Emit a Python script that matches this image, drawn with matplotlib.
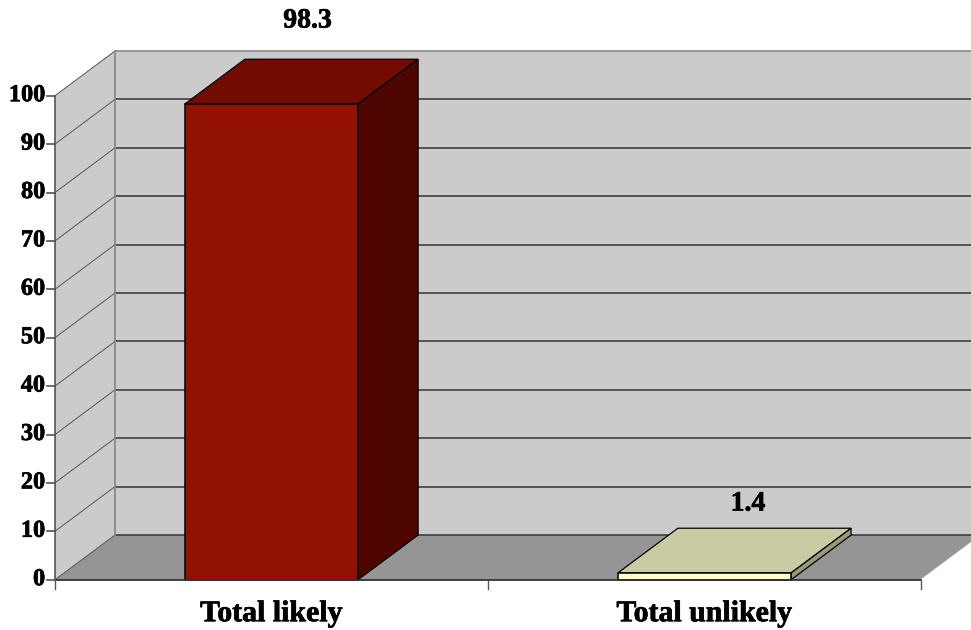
import matplotlib
matplotlib.use('Agg')
import matplotlib.pyplot as plt
import matplotlib.patheffects as pe
from matplotlib.patches import Polygon

categories = ['Total likely', 'Total unlikely']
values = [98.3, 1.4]
value_labels = ['98.3', '1.4']
yticks = [0, 10, 20, 30, 40, 50, 60, 70, 80, 90, 100]

front_colors = ['#921100', '#FFFFCC']
top_colors = ['#730C00', '#CBCBA3']
side_colors = ['#4F0500', '#9A9A7A']

WALL = '#CBCBCB'
FLOOR = '#959595'
LINE = '#333333'

# axes fill the figure, one x unit is one category slot
px_x = 433.0
px_y = 4.84
left = 55.0
base = 579.7
plt.rcParams['font.family'] = ['Liberation Serif', 'DejaVu Serif']
fig = plt.figure(figsize=(9.71, 6.3), dpi=100)
ax = fig.add_axes([0, 0, 1, 1])
ax.set_xlim(-left / px_x, (971 - left) / px_x)
ax.set_ylim(-(630 - base) / px_y, base / px_y)
ax.axis('off')

# oblique depth offset of the 3d box
dx = 60 / px_x
dy = 44.7 / px_y
ymax = 100
xmax = 2
heavy = [pe.withStroke(linewidth=0.5, foreground='black')]


def poly(pts, color, edge='none', lw=0.0, z=1):
    ax.add_patch(Polygon(pts, closed=True, facecolor=color, edgecolor=edge,
                         linewidth=lw, zorder=z, joinstyle='miter'))


# walls and floor
poly([(dx, dy), (xmax + dx, dy), (xmax + dx, ymax + dy), (dx, ymax + dy)], WALL)
poly([(0, 0), (dx, dy), (dx, ymax + dy), (0, ymax)], WALL)
poly([(0, 0), (xmax, 0), (xmax + dx, dy), (dx, dy)], FLOOR)

# gridlines run along the side wall and then across the back
for t in yticks:
    c = '#808080' if t == 100 else LINE
    ax.plot([0, dx], [t, t + dy], color='#555555', lw=0.7, zorder=2)
    ax.plot([dx, xmax + dx], [t + dy, t + dy], color=c, lw=1.1, zorder=2)
ax.plot([dx, dx], [0 + dy, ymax + dy], color='#8a8a8a', lw=1.3, zorder=2)
ax.plot([xmax, xmax + dx], [0, dy], color='#f0f0f0', lw=0.7, zorder=2)

# bars
bar_w = 0.4
for i, v in enumerate(values):
    x0 = i + 0.5 - bar_w / 2
    x1 = x0 + bar_w
    poly([(x0, v), (x1, v), (x1 + dx, v + dy), (x0 + dx, v + dy)], top_colors[i], 'black', 0.9, 3)
    poly([(x1, 0), (x1 + dx, dy), (x1 + dx, v + dy), (x1, v)], side_colors[i], 'black', 0.9, 3)
    poly([(x0, 0), (x1, 0), (x1, v), (x0, v)], front_colors[i], 'black', 1.1, 4)

# front axis lines and tick marks
ax.plot([0, xmax], [0, 0], color=LINE, lw=1.3, zorder=5)
ax.plot([0, 0], [0, ymax], color='#555555', lw=1.2, zorder=5)
for t in yticks:
    ax.plot([-8 / px_x, 0], [t, t], color='#555555', lw=1.2, zorder=5)
    ax.text(-10 / px_x, t, str(t), ha='right', va='center', fontsize=17.5,
            fontweight='bold', color='black', path_effects=heavy)
for i in range(3):
    ax.plot([i, i], [0, -9 / px_y], color='#555555', lw=1.0, zorder=5)

for i, name in enumerate(categories):
    ax.text(i + 0.5, -34 / px_y, name, ha='center', va='center', fontsize=21.5,
            fontweight='bold', color='black', path_effects=heavy)

label_pos = [(307.5 - left, (base - 21) / px_y), (748 - left, (base - 504) / px_y)]
for (lx, ly), s in zip(label_pos, value_labels):
    ax.text(lx / px_x, ly, s, ha='center', va='center', fontsize=20,
            fontweight='bold', color='black', zorder=6, path_effects=heavy)

fig.savefig('out.png', dpi=100, facecolor='white')
